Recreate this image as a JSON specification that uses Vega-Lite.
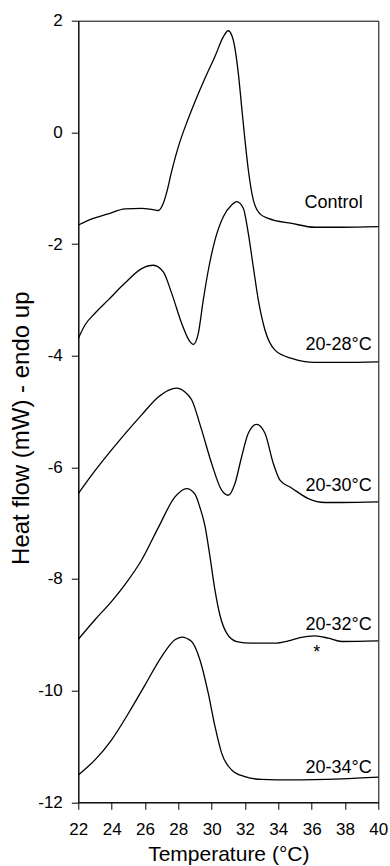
{
  "$schema": "https://vega.github.io/schema/vega-lite/v6.json",
  "autosize": {"type": "none"},
  "width": 300,
  "height": 781.6,
  "padding": {"left": 78.3, "top": 20.7, "right": 11.7, "bottom": 63.7},
  "background": "white",
  "config": {
    "view": {"stroke": "black", "strokeWidth": 1},
    "font": "Liberation Sans",
    "axis": {
      "grid": false,
      "domainColor": "black",
      "tickColor": "black",
      "labelColor": "black",
      "titleColor": "black",
      "labelFont": "Liberation Sans",
      "titleFont": "Liberation Sans",
      "labelFontSize": 17,
      "titleFontSize": 21,
      "titleFontWeight": "normal",
      "tickSize": 7,
      "domainWidth": 1,
      "tickWidth": 1,
      "labelOverlap": false,
      "labelBound": false
    }
  },
  "datasets": {
    "curves": [
      {"series": "Control", "t": 22.0, "hf": -1.66},
      {"series": "Control", "t": 22.9, "hf": -1.54},
      {"series": "Control", "t": 23.8, "hf": -1.46},
      {"series": "Control", "t": 24.8, "hf": -1.37},
      {"series": "Control", "t": 25.8, "hf": -1.36},
      {"series": "Control", "t": 26.4, "hf": -1.38},
      {"series": "Control", "t": 26.8, "hf": -1.40},
      {"series": "Control", "t": 27.1, "hf": -1.27},
      {"series": "Control", "t": 27.3, "hf": -1.08},
      {"series": "Control", "t": 27.6, "hf": -0.70},
      {"series": "Control", "t": 28.0, "hf": -0.26},
      {"series": "Control", "t": 28.5, "hf": 0.17},
      {"series": "Control", "t": 29.0, "hf": 0.55},
      {"series": "Control", "t": 29.6, "hf": 0.97},
      {"series": "Control", "t": 30.2, "hf": 1.36},
      {"series": "Control", "t": 30.7, "hf": 1.71},
      {"series": "Control", "t": 31.0, "hf": 1.82},
      {"series": "Control", "t": 31.3, "hf": 1.65},
      {"series": "Control", "t": 31.6, "hf": 1.06},
      {"series": "Control", "t": 31.8, "hf": 0.46},
      {"series": "Control", "t": 32.0, "hf": -0.14},
      {"series": "Control", "t": 32.2, "hf": -0.67},
      {"series": "Control", "t": 32.5, "hf": -1.21},
      {"series": "Control", "t": 32.9, "hf": -1.46},
      {"series": "Control", "t": 33.4, "hf": -1.54},
      {"series": "Control", "t": 34.8, "hf": -1.63},
      {"series": "Control", "t": 36.2, "hf": -1.70},
      {"series": "Control", "t": 37.8, "hf": -1.70},
      {"series": "Control", "t": 40.0, "hf": -1.69},

      {"series": "20-28", "t": 22.0, "hf": -3.69},
      {"series": "20-28", "t": 22.4, "hf": -3.45},
      {"series": "20-28", "t": 23.0, "hf": -3.24},
      {"series": "20-28", "t": 23.8, "hf": -3.00},
      {"series": "20-28", "t": 24.8, "hf": -2.70},
      {"series": "20-28", "t": 25.8, "hf": -2.44},
      {"series": "20-28", "t": 26.5, "hf": -2.38},
      {"series": "20-28", "t": 27.1, "hf": -2.50},
      {"series": "20-28", "t": 27.6, "hf": -2.88},
      {"series": "20-28", "t": 28.2, "hf": -3.42},
      {"series": "20-28", "t": 28.7, "hf": -3.75},
      {"series": "20-28", "t": 28.9, "hf": -3.80},
      {"series": "20-28", "t": 29.2, "hf": -3.60},
      {"series": "20-28", "t": 29.5, "hf": -3.00},
      {"series": "20-28", "t": 29.8, "hf": -2.47},
      {"series": "20-28", "t": 30.2, "hf": -1.93},
      {"series": "20-28", "t": 30.7, "hf": -1.51},
      {"series": "20-28", "t": 31.2, "hf": -1.30},
      {"series": "20-28", "t": 31.5, "hf": -1.24},
      {"series": "20-28", "t": 31.9, "hf": -1.36},
      {"series": "20-28", "t": 32.2, "hf": -1.81},
      {"series": "20-28", "t": 32.5, "hf": -2.41},
      {"series": "20-28", "t": 32.8, "hf": -3.00},
      {"series": "20-28", "t": 33.2, "hf": -3.54},
      {"series": "20-28", "t": 33.8, "hf": -3.90},
      {"series": "20-28", "t": 34.8, "hf": -4.05},
      {"series": "20-28", "t": 36.2, "hf": -4.12},
      {"series": "20-28", "t": 37.8, "hf": -4.12},
      {"series": "20-28", "t": 40.0, "hf": -4.11},

      {"series": "20-30", "t": 22.0, "hf": -6.47},
      {"series": "20-30", "t": 22.8, "hf": -6.14},
      {"series": "20-30", "t": 23.8, "hf": -5.76},
      {"series": "20-30", "t": 24.8, "hf": -5.40},
      {"series": "20-30", "t": 25.8, "hf": -5.06},
      {"series": "20-30", "t": 26.8, "hf": -4.74},
      {"series": "20-30", "t": 27.4, "hf": -4.62},
      {"series": "20-30", "t": 27.9, "hf": -4.58},
      {"series": "20-30", "t": 28.4, "hf": -4.65},
      {"series": "20-30", "t": 28.8, "hf": -4.79},
      {"series": "20-30", "t": 29.4, "hf": -5.33},
      {"series": "20-30", "t": 30.0, "hf": -5.93},
      {"series": "20-30", "t": 30.6, "hf": -6.41},
      {"series": "20-30", "t": 31.0, "hf": -6.50},
      {"series": "20-30", "t": 31.4, "hf": -6.29},
      {"series": "20-30", "t": 31.8, "hf": -5.81},
      {"series": "20-30", "t": 32.2, "hf": -5.39},
      {"series": "20-30", "t": 32.7, "hf": -5.23},
      {"series": "20-30", "t": 33.2, "hf": -5.39},
      {"series": "20-30", "t": 33.7, "hf": -5.93},
      {"series": "20-30", "t": 34.1, "hf": -6.23},
      {"series": "20-30", "t": 34.8, "hf": -6.37},
      {"series": "20-30", "t": 35.8, "hf": -6.56},
      {"series": "20-30", "t": 36.8, "hf": -6.63},
      {"series": "20-30", "t": 37.8, "hf": -6.63},
      {"series": "20-30", "t": 40.0, "hf": -6.62},

      {"series": "20-32", "t": 22.0, "hf": -9.08},
      {"series": "20-32", "t": 23.0, "hf": -8.73},
      {"series": "20-32", "t": 24.0, "hf": -8.40},
      {"series": "20-32", "t": 24.8, "hf": -8.10},
      {"series": "20-32", "t": 25.8, "hf": -7.66},
      {"series": "20-32", "t": 26.8, "hf": -7.08},
      {"series": "20-32", "t": 27.8, "hf": -6.53},
      {"series": "20-32", "t": 28.5, "hf": -6.38},
      {"series": "20-32", "t": 29.0, "hf": -6.48},
      {"series": "20-32", "t": 29.3, "hf": -6.72},
      {"series": "20-32", "t": 29.6, "hf": -7.05},
      {"series": "20-32", "t": 29.9, "hf": -7.60},
      {"series": "20-32", "t": 30.2, "hf": -8.20},
      {"series": "20-32", "t": 30.5, "hf": -8.65},
      {"series": "20-32", "t": 30.9, "hf": -8.97},
      {"series": "20-32", "t": 31.5, "hf": -9.12},
      {"series": "20-32", "t": 32.4, "hf": -9.15},
      {"series": "20-32", "t": 33.8, "hf": -9.15},
      {"series": "20-32", "t": 34.6, "hf": -9.11},
      {"series": "20-32", "t": 35.3, "hf": -9.05},
      {"series": "20-32", "t": 36.2, "hf": -9.02},
      {"series": "20-32", "t": 37.0, "hf": -9.06},
      {"series": "20-32", "t": 37.8, "hf": -9.12},
      {"series": "20-32", "t": 40.0, "hf": -9.11},

      {"series": "20-34", "t": 22.0, "hf": -11.51},
      {"series": "20-34", "t": 23.0, "hf": -11.24},
      {"series": "20-34", "t": 24.0, "hf": -10.88},
      {"series": "20-34", "t": 25.0, "hf": -10.41},
      {"series": "20-34", "t": 26.0, "hf": -9.90},
      {"series": "20-34", "t": 27.0, "hf": -9.39},
      {"series": "20-34", "t": 27.8, "hf": -9.09},
      {"series": "20-34", "t": 28.2, "hf": -9.04},
      {"series": "20-34", "t": 28.8, "hf": -9.12},
      {"series": "20-34", "t": 29.3, "hf": -9.45},
      {"series": "20-34", "t": 29.8, "hf": -10.05},
      {"series": "20-34", "t": 30.2, "hf": -10.64},
      {"series": "20-34", "t": 30.6, "hf": -11.12},
      {"series": "20-34", "t": 31.2, "hf": -11.42},
      {"series": "20-34", "t": 32.0, "hf": -11.54},
      {"series": "20-34", "t": 33.0, "hf": -11.59},
      {"series": "20-34", "t": 34.8, "hf": -11.60},
      {"series": "20-34", "t": 37.8, "hf": -11.58},
      {"series": "20-34", "t": 40.0, "hf": -11.55}
    ],
    "labels": [
      {"label": "Control", "t": 39.06, "hf": -1.36},
      {"label": "20-28°C", "t": 39.6, "hf": -3.90},
      {"label": "20-30°C", "t": 39.6, "hf": -6.43},
      {"label": "20-32°C", "t": 39.6, "hf": -8.91},
      {"label": "20-34°C", "t": 39.6, "hf": -11.48}
    ],
    "notes": [
      {"label": "*", "t": 36.3, "hf": -9.42}
    ]
  },
  "layer": [
    {
      "data": {"name": "curves"},
      "mark": {"type": "line", "color": "black", "strokeWidth": 1.3, "interpolate": "monotone"},
      "encoding": {
        "x": {
          "field": "t", "type": "quantitative",
          "scale": {"domain": [22, 40], "nice": false, "zero": false},
          "axis": {
            "title": "Temperature (°C)",
            "values": [22, 24, 26, 28, 30, 32, 34, 36, 38, 40],
            "tickCount": 20,
            "format": "d",
            "labelPadding": 12,
            "titlePadding": 6,
            "labelFlush": false,
            "labelOverlap": false
          }
        },
        "y": {
          "field": "hf", "type": "quantitative",
          "scale": {"domain": [-12, 2], "nice": false, "zero": false},
          "axis": {
            "title": "Heat flow (mW) - endo up",
            "values": [-12, -10, -8, -6, -4, -2, 0, 2],
            "tickCount": 20,
            "labelExpr": "toString(datum.value)",
            "labelPadding": 9,
            "titlePadding": 4,
            "titleFontSize": 24,
            "titleY": 407,
            "labelFlush": false,
            "labelOverlap": false
          }
        },
        "detail": {"field": "series", "type": "nominal"}
      }
    },
    {
      "data": {"name": "labels"},
      "mark": {"type": "text", "align": "right", "baseline": "alphabetic", "fontSize": 18, "font": "Liberation Sans", "color": "black"},
      "encoding": {
        "x": {"field": "t", "type": "quantitative"},
        "y": {"field": "hf", "type": "quantitative"},
        "text": {"field": "label", "type": "nominal"}
      }
    },
    {
      "data": {"name": "notes"},
      "mark": {"type": "text", "align": "center", "baseline": "alphabetic", "fontSize": 18, "font": "Liberation Sans", "color": "black"},
      "encoding": {
        "x": {"field": "t", "type": "quantitative"},
        "y": {"field": "hf", "type": "quantitative"},
        "text": {"field": "label", "type": "nominal"}
      }
    }
  ]
}
